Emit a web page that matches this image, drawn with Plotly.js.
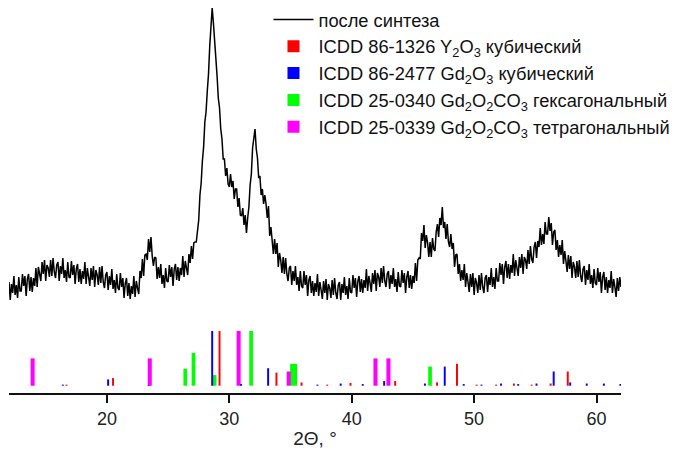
<!DOCTYPE html>
<html>
<head>
<meta charset="utf-8">
<script src="https://cdn.plot.ly/plotly-3.0.1.min.js"></script>
<style>html,body{margin:0;padding:0;background:#fff;}#chart{width:676px;height:450px;}</style>
</head>
<body>
<div id="chart"></div>
<script>
// Measured XRD pattern (after synthesis), sampled on a 0.1° 2θ grid starting at 12°
const twoThetaStart = 12.0;
const twoThetaStep = 0.1;
const intensity = [
111,93,109,100,117,98,108,95,116,102,
102,119,107,117,97,114,119,102,116,101,
115,107,125,106,126,120,112,131,119,133,
112,128,125,116,133,117,135,121,115,128,
131,112,127,119,135,115,123,111,131,116,
115,132,118,128,109,124,129,111,124,109,
122,114,131,109,125,116,107,125,113,127,
106,123,118,108,126,110,127,111,105,118,
121,103,117,108,124,104,113,100,119,105,
103,120,106,115,95,110,115,97,110,94,
107,99,117,96,112,105,99,122,115,134,
117,138,139,133,154,141,156,137,127,136,
135,114,126,115,129,109,118,105,125,112,
111,128,116,126,107,124,129,113,126,112,
125,118,137,116,132,125,118,139,130,147,
134,150,151,151,165,173,198,210,232,246,
271,281,302,319,347,363,385,370,354,330,
317,295,285,264,254,234,234,217,225,209,
206,219,206,212,194,204,204,186,195,178,
177,185,168,178,160,175,186,208,219,245,
256,264,244,235,215,217,198,204,189,198,
189,175,187,157,166,153,139,154,139,150,
126,140,133,120,136,119,135,119,112,125,
127,108,122,112,127,108,116,102,122,107,
105,122,108,118,97,113,117,100,112,97,
110,101,119,97,111,103,94,112,100,114,
93,109,105,95,113,98,115,100,94,108,
111,93,109,100,116,98,107,94,115,101,
100,118,105,115,96,112,117,101,114,100,
113,105,124,102,117,110,101,120,109,123,
102,120,116,106,125,110,127,112,106,119,
122,104,118,109,125,106,114,101,121,107,
106,123,110,120,100,116,122,105,118,104,
117,110,130,112,133,135,134,160,152,168,
145,158,150,136,151,136,155,144,142,161,
169,156,175,168,186,165,171,154,169,151,
146,159,144,150,126,138,139,119,129,112,
123,113,129,106,120,111,101,119,106,120,
98,115,110,100,118,103,120,106,100,115,
118,101,116,108,125,106,116,104,125,112,
112,130,118,129,109,126,132,115,129,114,
128,120,139,117,133,125,117,136,125,139,
119,136,133,124,143,129,147,134,130,146,
151,135,152,146,165,148,159,149,171,159,
159,176,162,170,148,161,163,143,153,136,
148,138,153,129,142,132,121,138,124,137,
115,131,126,115,132,116,133,117,111,124,
127,108,123,113,129,109,118,105,124,110,
108,125,111,121,100,116,121,103,116,100,
113,105,122,100,114,106,96,115,102,116,
106
];

// Reference patterns (2θ, relative intensity %)
const y2o3Pos = [16.7,20.5,29.2,33.85,35.9,38.0,39.9,43.55,46.97,48.6,50.2,51.8,53.25,54.7,56.25,57.65];
const y2o3Int = [2,14,100,24,6,2,5,8.5,6,40,2,2,4,2,4,26];

const gd2o3Pos = [16.4,20.1,23.4,28.6,30.96,33.17,37.2,39.1,40.9,42.65,45.98,47.6,49.15,50.6,52.2,53.6,55.1,56.5,57.85,59.2,60.6,61.95];
const gd2o3Int = [2,11.6,1,100,3,32,2,4,3,8.5,4,35,3,2,4,3,4,26,6,4,4,3];

const hexPos = [26.4,27.07,28.8,31.78,35.12,35.38,46.4];
const hexInt = [31,60,19.5,100,40,40,35];

const tetPos = [13.93,23.5,30.76,34.85,41.94,43.0];
const tetInt = [50,50,100,26,50,50];

const legendNames = [
  'после синтеза',
  'ICDD 86-1326 Y<sub>2</sub>O<sub>3</sub> кубический',
  'ICDD 86-2477 Gd<sub>2</sub>O<sub>3</sub> кубический',
  'ICDD 25-0340 Gd<sub>2</sub>O<sub>2</sub>CO<sub>3</sub> гексагональный',
  'ICDD 25-0339 Gd<sub>2</sub>O<sub>2</sub>CO<sub>3</sub> тетрагональный'
];

const twoTheta = intensity.map((_, i) => +(twoThetaStart + i * twoThetaStep).toFixed(2));

function stick(pos, val, color, w, name, rank) {
  return {
    type: 'bar', x: pos, y: val, yaxis: 'y2', name: name, legendrank: rank,
    width: pos.map(() => w), marker: {color: color, line: {width: 0}},
    hoverinfo: 'skip'
  };
}

const data = [
  {type: 'scatter', mode: 'lines', x: twoTheta, y: intensity, name: legendNames[0], legendrank: 1,
   line: {color: '#000', width: 1.5}, hoverinfo: 'skip'},
  stick(hexPos, hexInt, '#00ff00', 0.3, legendNames[3], 4),
  stick(tetPos, tetInt, '#ff00ff', 0.33, legendNames[4], 5),
  stick(y2o3Pos, y2o3Int, '#ff0000', 0.16, legendNames[1], 2),
  stick(gd2o3Pos, gd2o3Int, '#0000ff', 0.16, legendNames[2], 3)
];

const fam = 'Liberation Sans, Arial, sans-serif';

const layout = {
  width: 676, height: 450,
  margin: {l: 9, r: 55, t: 5, b: 57, pad: 0, autoexpand: false},
  paper_bgcolor: '#fff', plot_bgcolor: '#fff',
  font: {family: fam, size: 18, color: '#222'},
  showlegend: true,
  barmode: 'overlay',
  legend: {x: 0.424, y: 1.01, xanchor: 'left', yanchor: 'top', bgcolor: 'rgba(0,0,0,0)',
           font: {family: fam, size: 18.3, color: '#111'}, itemwidth: 40},
  xaxis: {
    range: [12, 62], tickvals: [20, 30, 40, 50, 60],
    showline: true, linecolor: '#111', linewidth: 2,
    ticks: 'outside', ticklen: 8, tickwidth: 2, tickcolor: '#111',
    showgrid: false, zeroline: false,
    tickfont: {family: fam, size: 18, color: '#222'},
    title: {text: '2Θ, °', font: {family: fam, size: 19, color: '#222'}, standoff: 4}
  },
  yaxis: {range: [0, 388], visible: false, showgrid: false, zeroline: false},
  yaxis2: {range: [-13.3, 696], overlaying: 'y', visible: false, showgrid: false, zeroline: false}
};

Plotly.newPlot('chart', data, layout, {displayModeBar: false, staticPlot: true});
</script>
</body>
</html>
